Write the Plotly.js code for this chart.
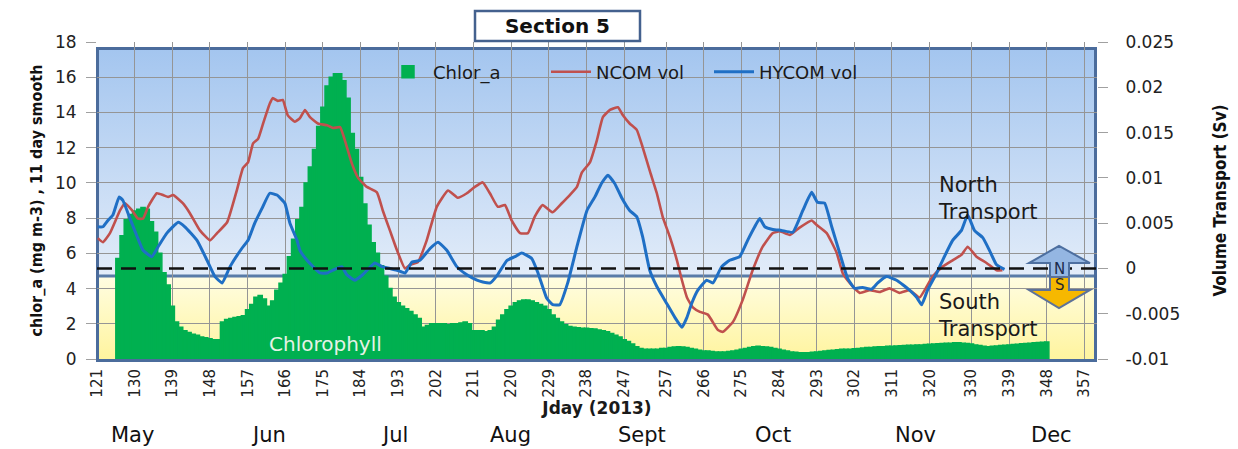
<!DOCTYPE html>
<html>
<head>
<meta charset="utf-8">
<script src="https://cdn.plot.ly/plotly-3.0.1.min.js"></script>
<style>html,body{margin:0;padding:0;background:#fff;}</style>
</head>
<body>
<div id="chart" style="width:1238px;height:449px;"></div>
<script>
// ---------------- DATA ----------------
const xTickVals = [121,130,139,148,157,166,175,184,193,202,211,220,229,238,247,257,266,275,284,293,302,311,320,330,339,348,357];
const xTickText = xTickVals.map(String);

const monthNames = ['May','Jun','Jul','Aug','Sept','Oct','Nov','Dec'];
const monthPos   = [129.6,161.9,192.2,219.9,251.2,282.5,316.7,349.1];

// Chlor_a (mg m-3), 11 day smooth, one value per Jday starting at day 126
const chlorStartDay = 126;
const chlorVals = [
 5.7,7.0,7.9,8.2,8.4,8.5,8.6,8.5,7.8,7.2,
 6.0,4.9,4.2,3.0,2.1,1.8,1.6,1.5,1.4,1.35,
 1.25,1.2,1.15,1.1,1.1,2.1,2.25,2.3,2.35,2.4,
 2.45,2.8,3.1,3.5,3.6,3.4,3.0,3.3,3.9,4.3,
 4.8,5.8,6.8,7.9,8.6,10.0,10.9,11.9,13.2,14.3,
 15.5,16.0,16.2,16.2,15.8,14.8,12.8,11.9,10.3,8.8,
 7.6,6.6,6.0,5.3,4.7,4.0,3.5,3.2,3.0,2.85,
 2.7,2.5,2.3,1.8,1.9,2.0,2.0,2.0,2.0,1.95,
 2.0,2.0,2.05,2.1,2.0,1.6,1.6,1.6,1.55,1.6,
 1.8,2.2,2.5,2.8,3.0,3.2,3.3,3.35,3.35,3.3,
 3.2,3.1,3.0,2.8,2.5,2.3,2.1,1.95,1.85,1.8,
 1.78,1.75,1.75,1.72,1.7,1.65,1.6,1.55,1.45,1.35,
 1.25,1.1,1.0,0.85,0.7,0.6,0.55,0.55,0.55,0.55,
 0.6,0.6,0.65,0.68,0.7,0.68,0.65,0.6,0.55,0.5,
 0.45,0.45,0.42,0.4,0.4,0.4,0.42,0.45,0.5,0.55,
 0.6,0.65,0.7,0.72,0.7,0.68,0.65,0.6,0.55,0.5,
 0.45,0.4,0.38,0.35,0.35,0.35,0.38,0.4,0.42,0.45,
 0.48,0.5,0.52,0.55,0.55,0.55,0.58,0.6,0.62,0.65,
 0.65,0.68,0.7,0.7,0.72,0.72,0.74,0.75,0.76,0.78,
 0.78,0.8,0.8,0.82,0.84,0.85,0.87,0.88,0.9,0.9,
 0.92,0.92,0.9,0.88,0.85,0.8,0.76,0.72,0.7,0.72,
 0.74,0.76,0.78,0.8,0.82,0.84,0.86,0.88,0.9,0.92,
 0.94,0.95,0.97
];

// NCOM volume transport (Sv)
const ncomDays = [121.2,122.4,124.1,126.5,127.7,129.4,130.8,132.0,133.2,135.3,136.8,138.0,139.2,141.5,143.2,145.6,148.0,149.7,152.1,154.4,155.9,157.1,158.3,159.5,160.7,162.3,163.0,164.2,165.4,166.6,168.3,169.5,170.7,171.9,173.8,176.0,177.4,179.1,180.2,181.9,183.4,185.5,187.9,189.3,191.0,192.7,194.6,195.8,197.7,199.8,202.2,204.9,207.2,209.4,211.3,213.2,214.9,216.8,218.5,220.1,222.1,224.0,225.6,227.5,229.9,232.1,234.0,235.7,236.9,238.8,240.5,241.9,243.6,245.5,246.7,248.3,250.0,251.4,253.1,254.8,256.2,257.9,259.6,260.8,262.0,263.4,265.1,267.0,269.4,270.6,273.0,275.3,277.7,280.1,282.5,284.2,286.6,288.9,291.8,293.0,295.4,297.8,299.2,300.9,303.3,305.7,308.1,310.4,312.8,315.2,317.6,320.7,323.1,325.5,327.6,329.1,331.2,333.6,336.0,337.4];
const ncomVals = [0.00335,0.0029,0.0039,0.0064,0.0072,0.0064,0.0055,0.0055,0.0068,0.0083,0.0081,0.0079,0.0081,0.0072,0.0061,0.0042,0.0031,0.0039,0.0051,0.0086,0.0111,0.0117,0.0138,0.0143,0.0160,0.0182,0.0188,0.0185,0.0186,0.0169,0.0162,0.0166,0.0175,0.0167,0.0160,0.0158,0.0155,0.0156,0.0142,0.0116,0.0100,0.0090,0.0084,0.0064,0.0042,0.0020,0.0000,0.0004,0.0007,0.0031,0.0068,0.0086,0.0078,0.0083,0.0090,0.0095,0.0083,0.0068,0.0070,0.0053,0.0039,0.0039,0.0057,0.0070,0.0062,0.0072,0.0081,0.0090,0.0106,0.0117,0.0142,0.0167,0.0175,0.0178,0.0169,0.0160,0.0153,0.0134,0.0108,0.0083,0.0057,0.0035,0.0009,-0.0013,-0.0032,-0.0043,-0.0048,-0.0051,-0.0068,-0.0070,-0.0059,-0.0035,-0.0002,0.0024,0.0039,0.0041,0.0037,0.0045,0.0053,0.0048,0.0039,0.0017,-0.0005,-0.0016,-0.0027,-0.0024,-0.0026,-0.0022,-0.0027,-0.0024,-0.0032,-0.0009,0.0002,0.0009,0.0015,0.0024,0.0013,0.0006,-0.0002,-0.0002];

// HYCOM volume transport (Sv)
const hycomDays = [121.2,122.4,123.6,124.8,126.3,127.2,128.9,130.6,132.0,134.1,135.6,137.7,140.4,142.0,144.9,147.3,149.2,150.9,152.8,155.6,157.1,158.7,160.4,162.3,164.0,165.9,167.1,168.8,169.5,171.2,174.3,176.0,177.4,179.5,180.7,182.6,184.5,187.4,189.1,191.0,192.7,194.6,196.3,198.2,200.6,202.5,204.6,207.0,209.4,211.8,213.2,215.0,216.6,219.0,220.9,222.5,224.9,226.4,228.5,229.9,231.6,233.5,235.7,238.1,240.0,241.6,243.1,244.7,246.4,248.3,250.0,251.4,253.1,254.8,257.2,259.1,260.8,262.0,263.1,264.6,266.7,268.2,270.3,272.2,274.6,276.5,278.2,279.4,280.6,282.5,284.6,287.3,289.7,291.8,293.2,294.9,296.6,298.5,300.4,302.1,304.0,306.1,307.6,309.7,312.1,315.2,316.9,318.1,319.5,321.7,323.1,325.5,327.6,329.1,330.7,332.7,334.3,336.0,337.9];
const hycomVals = [0.0046,0.0046,0.0053,0.0059,0.0079,0.0075,0.0055,0.0035,0.0020,0.0013,0.0024,0.0039,0.0051,0.0046,0.0031,0.0009,-0.0009,-0.0016,0.0002,0.0022,0.0031,0.0050,0.0066,0.0083,0.0081,0.0072,0.0050,0.0031,0.0020,0.0009,-0.0005,-0.0005,-0.0002,0.0002,-0.0007,-0.0013,-0.0007,0.0006,0.0002,0.0000,-0.0002,-0.0005,0.0007,0.0009,0.0022,0.0029,0.0020,0.0002,-0.0007,-0.0013,-0.0015,-0.0016,-0.0008,0.0009,0.0013,0.0017,0.0011,-0.0005,-0.0033,-0.0040,-0.0040,-0.0016,0.0024,0.0064,0.0079,0.0094,0.0103,0.0094,0.0078,0.0064,0.0057,0.0035,-0.0002,-0.0020,-0.0039,-0.0054,-0.0065,-0.0054,-0.0039,-0.0024,-0.0013,-0.0016,0.0002,0.0009,0.0013,0.0031,0.0046,0.0055,0.0046,0.0043,0.0042,0.0040,0.0064,0.0084,0.0073,0.0072,0.0046,0.0017,-0.0011,-0.0022,-0.0021,-0.0023,-0.0016,-0.0009,-0.0013,-0.0024,-0.0032,-0.0040,-0.0024,-0.0005,0.0009,0.0031,0.0042,0.0059,0.0042,0.0034,0.0020,0.0004,-0.0001];

const rightTickVals = [0.025,0.02,0.015,0.01,0.005,0,-0.005,-0.01];
const rightTickText = ['0.025','0.02','0.015','0.01','0.005','0','-0.005','-0.01'];

// ---------------- BUILD ----------------
const chlorDays = chlorVals.map((v,i)=>chlorStartDay+i);
const FONT = 'DejaVu Sans, Verdana, sans-serif';
const NARROW = 'Liberation Sans Narrow, DejaVu Sans Condensed, Arial Narrow, sans-serif';

const traces = [
  {type:'bar', name:'Chlor_a', x:chlorDays, y:chlorVals, width:1,
   marker:{color:'#00b050', line:{width:1.5, color:'#00b050'}}, yaxis:'y', hoverinfo:'skip'},
  {type:'scatter', mode:'lines', name:'NCOM vol', x:ncomDays, y:ncomVals, yaxis:'y2',
   line:{color:'#c0504d', width:2.6, shape:'spline', smoothing:0.4}},
  {type:'scatter', mode:'lines', name:'HYCOM vol', x:hycomDays, y:hycomVals, yaxis:'y2',
   line:{color:'#1f6fc5', width:3, shape:'spline', smoothing:0.4}}
];

// plot-area helpers (pixel -> paper)
const L=97, R=1097, T=42, B=359;
const px = v => (v-L)/(R-L);
const py = v => (B-v)/(B-T);

const bgSvg = '<svg xmlns="http://www.w3.org/2000/svg" width="1001" height="315" viewBox="0 0 1001 315" preserveAspectRatio="none">'+
 '<defs><linearGradient id="gb" x1="0" y1="0" x2="0" y2="1"><stop offset="0" stop-color="#a3c5ef"/><stop offset="1" stop-color="#e2ecf9"/></linearGradient>'+
 '<linearGradient id="gy" x1="0" y1="0" x2="0" y2="1"><stop offset="0" stop-color="#fffde2"/><stop offset="1" stop-color="#fff49c"/></linearGradient></defs>'+
 '<rect x="0" y="0" width="1001" height="229" fill="url(#gb)"/>'+
 '<rect x="0" y="229" width="1001" height="86" fill="url(#gy)"/>'+
 '<line x1="0" y1="229" x2="1001" y2="229" stroke="#587ba8" stroke-width="3"/>'+
 '<rect x="1.5" y="1.5" width="998" height="312" fill="none" stroke="#4b6c9c" stroke-width="3"/></svg>';
const bgUri = 'data:image/svg+xml;charset=utf-8,' + encodeURIComponent(bgSvg);

function pathFrom(pts){
  return 'M' + pts.map(p=>px(p[0]).toFixed(4)+','+py(p[1]).toFixed(4)).join(' L') + ' Z';
}
const upArrow = pathFrom([[1059,246],[1090,263],[1069,263],[1069,277],[1050,277],[1050,263],[1029,263]]);
const downArrow = pathFrom([[1050,277],[1069,277],[1069,290],[1090,290],[1059,308],[1029,290],[1050,290]]);

const annotations = monthNames.map((m,i)=>({
  text:m, x:monthPos[i], xref:'x', y:py(435), yref:'paper', showarrow:false,
  xanchor:'center', yanchor:'middle', borderpad:0, font:{family:FONT, size:21, color:'#111'}
}));
annotations.push(
  {text:'Chlorophyll', x:px(325), y:py(344), xref:'paper', yref:'paper', showarrow:false,
   xanchor:'center', yanchor:'middle', font:{family:FONT, size:20, color:'#e6f2e6'}},
  {text:'North<br>Transport', x:px(936), y:py(198), xref:'paper', yref:'paper', showarrow:false,
   xanchor:'left', yanchor:'middle', align:'left', font:{family:FONT, size:21, color:'#1a1a1a'}},
  {text:'South<br>Transport', x:px(936), y:py(315), xref:'paper', yref:'paper', showarrow:false,
   xanchor:'left', yanchor:'middle', align:'left', font:{family:FONT, size:21, color:'#1a1a1a'}},
  {text:'N', x:px(1059.5), y:py(269), xref:'paper', yref:'paper', showarrow:false,
   xanchor:'center', yanchor:'middle', font:{family:FONT, size:15, color:'#1b2a4a'}},
  {text:'S', x:px(1059.5), y:py(285), xref:'paper', yref:'paper', showarrow:false,
   xanchor:'center', yanchor:'middle', font:{family:FONT, size:15, color:'#2a2a2a'}}
);

const layout = {
  width:1238, height:449,
  margin:{l:L, r:1238-R, t:T, b:449-B, pad:0},
  paper_bgcolor:'#ffffff', plot_bgcolor:'rgba(0,0,0,0)',
  bargap:0, showlegend:true,
  title:{text:'<b>Section 5</b>', font:{family:FONT, size:20, color:'#111'},
         xref:'paper', x:px(557.5), xanchor:'center', yref:'container', y:1-26/449, yanchor:'middle'},
  xaxis:{range:[121,360], tickmode:'array', tickvals:xTickVals, ticktext:xTickText,
         tickangle:-90, tickfont:{family:FONT, size:15, color:'#222'},
         showgrid:true, gridcolor:'#959595', gridwidth:1, zeroline:false, showline:false,
         ticks:'', ticklabelstandoff:6,
         title:{text:'<b>Jday (2013)</b>', font:{family:FONT, size:17, color:'#1a1a1a'}, standoff:4}},
  yaxis:{range:[0,18], dtick:2, tick0:0, showgrid:true, gridcolor:'#959595', gridwidth:1,
         zeroline:false, showline:false, ticks:'outside', ticklen:10, tickcolor:'#a0a0a0',
         ticklabelstandoff:6, tickfont:{family:FONT, size:17, color:'#222'},
         title:{text:'<b>chlor_a (mg m-3) , 11 day smooth</b>', font:{family:NARROW, size:16, color:'#111'}, standoff:8}},
  yaxis2:{overlaying:'y', side:'right', range:[-0.01,0.025], tickmode:'array',
          tickvals:rightTickVals, ticktext:rightTickText, showgrid:false, zeroline:false, showline:false,
          ticks:'outside', ticklen:10, tickcolor:'#a0a0a0', ticklabelstandoff:14,
          tickfont:{family:FONT, size:17, color:'#222'},
          title:{text:'<b>Volume Transport (Sv)</b>', font:{family:NARROW, size:17, color:'#111'}, standoff:34}},
  legend:{orientation:'h', x:px(383), y:py(72), xanchor:'left', yanchor:'middle',
          bgcolor:'rgba(0,0,0,0)', borderwidth:0, itemwidth:40,
          entrywidth:108, entrywidthmode:'pixels',
          font:{family:FONT, size:18, color:'#1a1a1a'}},
  images:[{source:bgUri, xref:'paper', yref:'paper', x:px(96), y:py(47), sizex:1001/1000, sizey:315/317,
           xanchor:'left', yanchor:'top', sizing:'stretch', layer:'below'}],
  shapes:[
    {type:'rect', xref:'paper', yref:'paper', x0:px(475), x1:px(640), y0:py(41), y1:py(11),
     line:{color:'#44618e', width:2.5}, fillcolor:'#ffffff', layer:'above'},
    {type:'line', xref:'paper', yref:'y2', x0:0, x1:1, y0:0, y1:0,
     line:{color:'#111111', width:2.5, dash:'15px,9px'}, layer:'above'},
    {type:'path', xref:'paper', yref:'paper', path:upArrow, fillcolor:'#94b6e2',
     line:{color:'#4d6fa0', width:2}, layer:'above'},
    {type:'path', xref:'paper', yref:'paper', path:downArrow, fillcolor:'#f6b800',
     line:{color:'#5d7299', width:2}, layer:'above'}
  ],
  annotations:annotations
};

Plotly.newPlot('chart', traces, layout, {displayModeBar:false, staticPlot:true});
</script>
</body>
</html>
